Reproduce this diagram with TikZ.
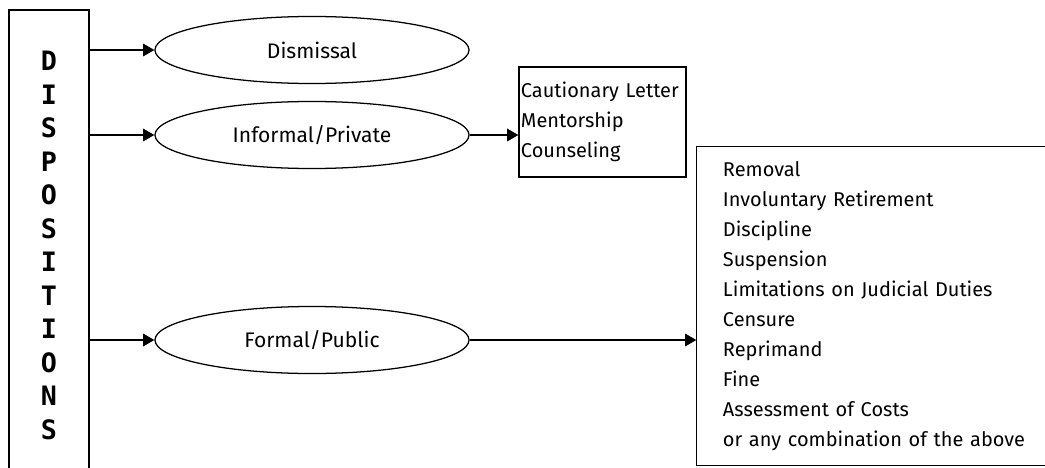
\documentclass[tikz,border=0pt]{standalone}
\usepackage{fontspec}
\setmainfont{Fira Sans}
\newfontfamily\dispfont{DejaVu Sans Mono}
\usetikzlibrary{arrows.meta, shapes.geometric}
\tikzset{%
	disp/.style={draw, line width=1pt, rectangle, minimum width=2cm, minimum height=11.775cm,%
		inner sep=0mm, align=center, font=\dispfont\bfseries\fontsize{19}{23.8}\selectfont},
	choice/.style={draw, line width=0.9pt, ellipse, minimum width=7.85cm, minimum height=1.675cm,%
		inner sep=0mm, font=\fontsize{15}{18}\selectfont},
	outcome/.style={draw, line width=0.9pt, rectangle, inner ysep=0mm, align=left,%
		font=\fontsize{14.2}{21.3}\selectfont},
	conn/.style={line width=0.9pt, -{Triangle[length=8pt, width=9pt]}}
}
\begin{document}
\begin{tikzpicture}[x=0.025cm, y=-0.025cm]
	\useasboundingbox (0,0) rectangle (1045,467);
	\node[disp] (disp) at (49,245.5) {D\\I\\S\\P\\O\\S\\I\\T\\I\\O\\N\\S};
	\node[choice] (dism) at (312,50) {Dismissal};
	\node[choice] (inf) at (312,135) {Informal/Private};
	\node[choice] (form) at (312,340) {Formal/Public};
	\node[outcome, text width=4.075cm, inner xsep=0.05cm, minimum height=2.75cm] (caut) at (602.5,122)
		{Cautionary Letter\\Mentorship\\Counseling};
	% right side of this box runs off the page
	\node[outcome, draw=none, text width=7.95cm, inner xsep=0.65cm, minimum height=7.95cm] (pen) at (882,306)
		{Removal\\Involuntary Retirement\\Discipline\\Suspension\\Limitations on Judicial Duties\\%
		Censure\\Reprimand\\Fine\\Assessment of Costs\\or any combination of the above};
	\draw[line width=0.9pt] (pen.north east) -- (pen.north west) -- (pen.south west) -- (pen.south east);

	\draw[conn] (disp.east |- dism.west) -- (dism.west);
	\draw[conn] (disp.east |- inf.west) -- (inf.west);
	\draw[conn] (disp.east |- form.west) -- (form.west);
	\draw[conn] (inf.east) -- (inf.east -| caut.west);
	\draw[conn] (form.east) -- (form.east -| pen.west);
\end{tikzpicture}
\end{document}
